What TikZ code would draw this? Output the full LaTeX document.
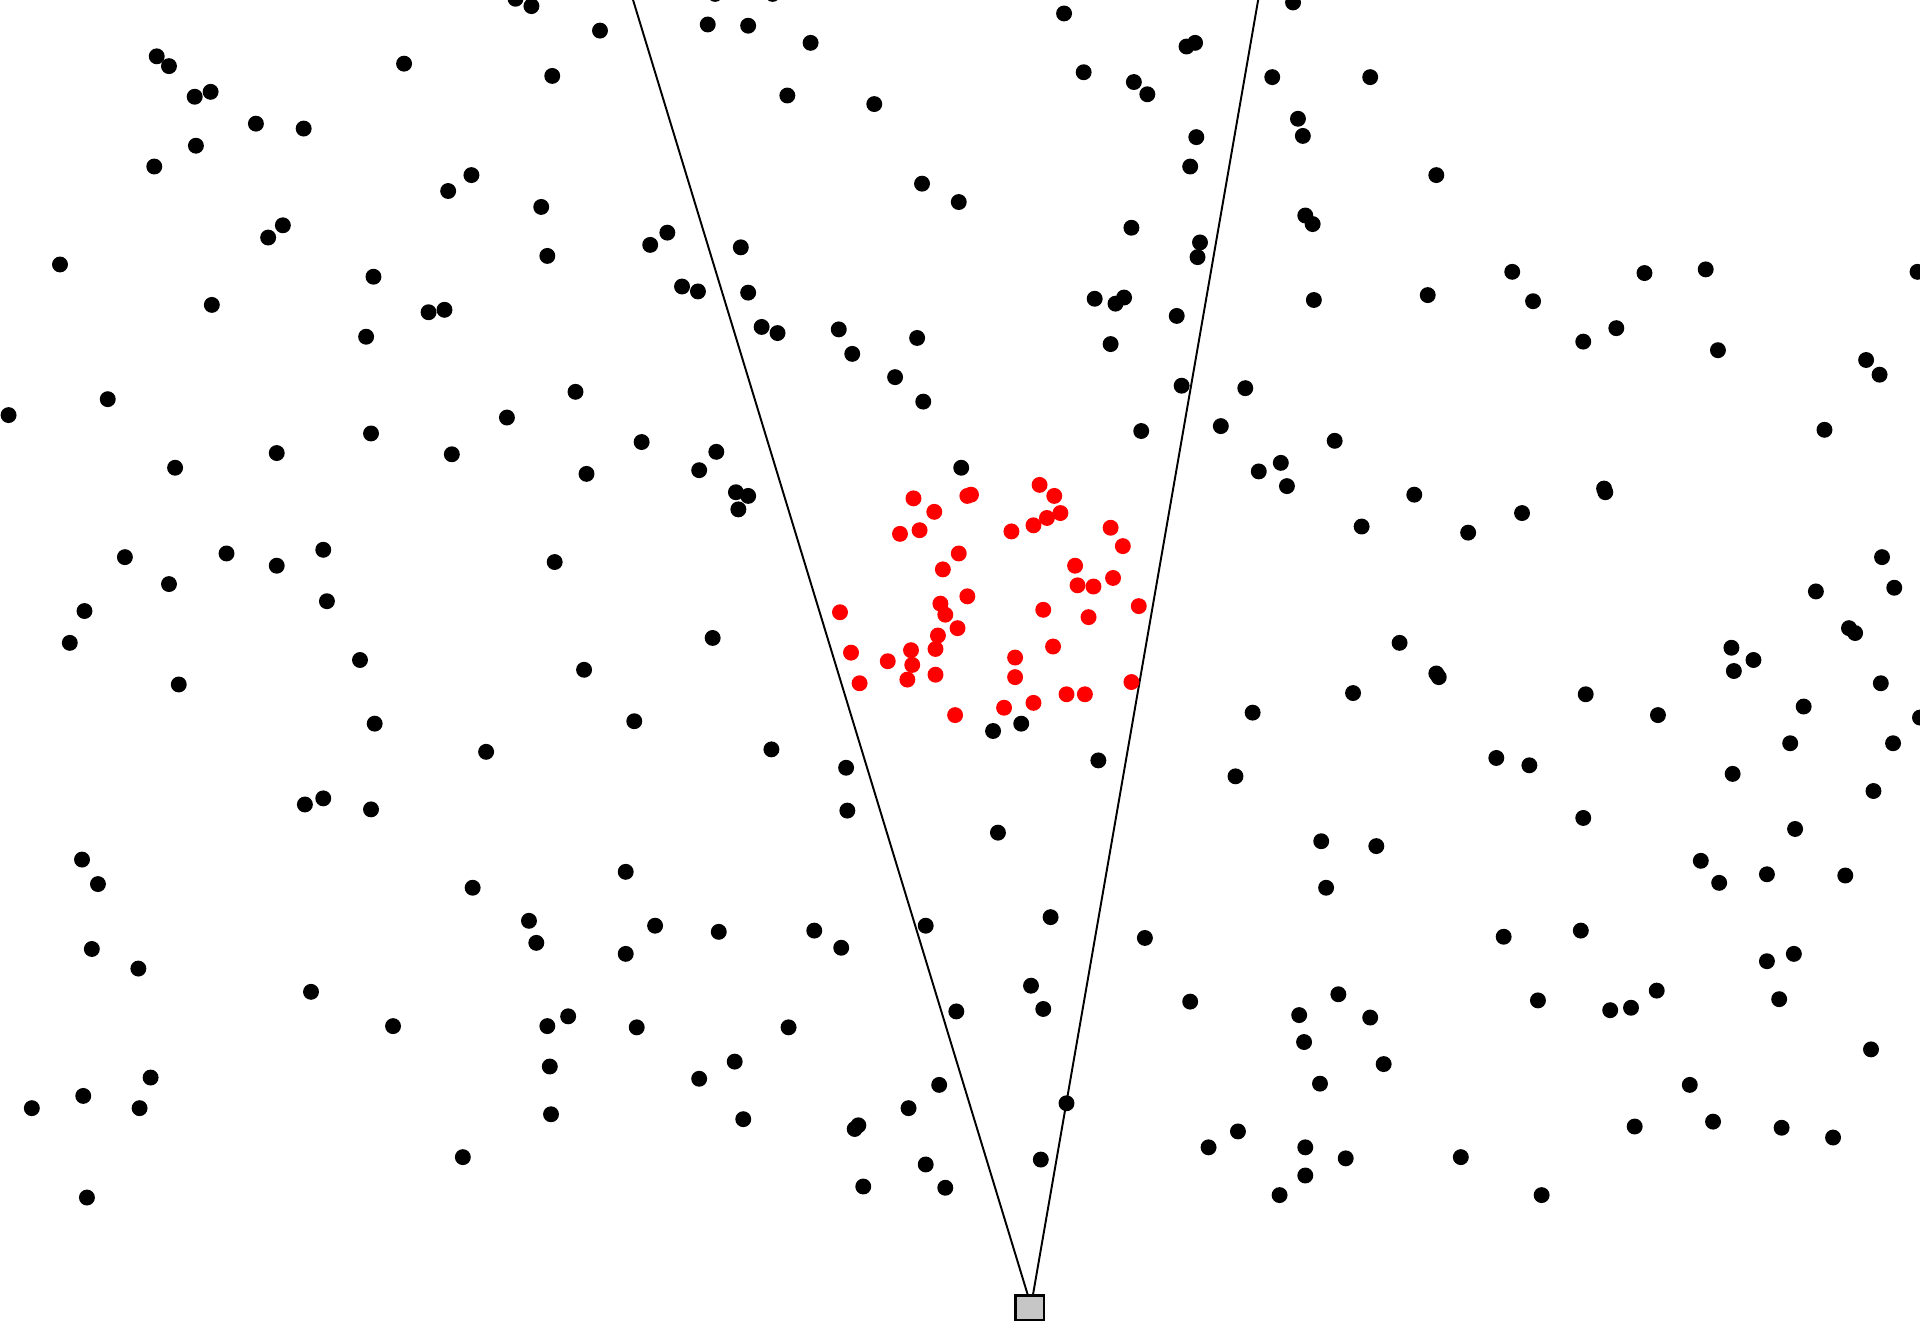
\documentclass[tikz,border=0pt]{standalone}
\definecolor{sensorgray}{HTML}{C6C6C6}
\begin{document}
\begin{tikzpicture}[x=0.01cm,y=-0.01cm,
  blackdot/.style={fill=black},
  reddot/.style={fill=red},
  fov/.style={draw=black,line width=0.45pt},
  sensorbox/.style={draw=black,fill=sensorgray,line width=0.6pt,minimum width=0.23cm,minimum height=0.20cm,inner sep=0pt}]
\useasboundingbox (0,0) rectangle (1568,1082);
\clip (0,0) rectangle (1568,1082);
% field of view
\coordinate (leftapex) at (839.5,1058);
\coordinate (rightapex) at (843.5,1058);
\coordinate (lefttop) at (517,0);
\coordinate (righttop) at (1027.5,0);
\draw[fov] (leftapex) -- (lefttop);
\draw[fov] (rightapex) -- (righttop);
% black dots
\foreach \px/\py in {
421/-1,434/5,563/-8,584/-5,631/-5,578/20,611/21,490/25,662/35,643/78,714/85,451/62,
128/46,138/54,330/52,159/79,172/75,209/101,248/105,126/136,160/119,
869/11,885/59,926/67,937/77,969/38,976/35,1056/2,1039/63,1119/63,1060/97,1064/111,977/112,972/136,
753/150,783/165,366/156,385/143,442/169,219/194,231/184,49/216,447/209,531/200,545/190,605/202,
305/226,173/249,350/255,363/253,557/234,570/238,611/239,299/275,1173/143,924/186,980/198,978/210,
1066/176,1072/183,894/244,911/248,918/243,961/258,1073/245,1166/241,1235/222,1252/246,1343/223,1393/220,
1566/222,1293/279,1320/268,1403/286,622/267,635/272,685/269,696/289,749/276,907/281,731/308,754/328,
7/339,88/326,470/320,414/341,303/354,226/370,369/371,143/382,524/361,479/387,585/369,571/384,
601/402,611/405,603/416,785/382,965/315,932/352,1017/317,997/348,1028/385,1046/378,1051/397,1090/360,
1155/404,1112/430,1199/435,1243/419,1310/399,1311/402,1490/351,1524/294,1535/306,
102/455,185/452,226/462,264/449,138/477,453/459,1537/455,
69/499,57/525,267/491,294/539,146/559,477/547,582/521,518/589,306/591,1483/483,1547/480,1510/513,1515/517,
1143/525,1173/550,1175/553,1105/566,1023/582,1295/567,1354/584,1414/529,1416/548,1432/539,1473/577,
1536/558,1568/586,1462/607,1546/607,811/597,834/591,397/614,630/612,897/621,
1222/619,1249/625,1009/634,1415/632,1530/646,691/627,692/662,249/657,264/652,303/661,67/702,80/722,
386/725,511/712,815/680,1079/687,1124/691,1083/725,1293/668,1466/677,1389/703,1404/721,1443/714,1507/715,
858/749,756/756,432/752,438/770,535/756,587/761,665/760,687/774,511/779,75/775,113/791,
935/766,1228/765,1291/760,1443/785,1465/779,1353/809,1315/825,1332/823,1453/816,1256/817,254/810,321/838,
447/838,464/830,520/839,644/839,781/826,842/805,852/824,972/818,1061/829,1093/812,1119/831,1065/851,
1130/869,1528/857,1380/886,1078/885,123/880,26/905,68/895,114/905,449/871,450/910,571/881,600/867,
607/914,701/919,698/922,742/905,767/886,871/901,378/945,71/978,705/969,756/951,772/970,850/947,
987/937,1011/924,1066/937,1066/960,1045/976,1099/946,1193/945,1259/976,1335/920,1399/916,1455/921,1497/929}
  \fill[blackdot] (\px,\py) circle[radius=0.065cm];
% red dots
\foreach \px/\py in {
746/407,763/418,735/436,751/433,790/405,793/404,849/396,861/405,866/419,855/423,844/429,826/434,
907/431,917/446,783/452,770/465,878/462,880/478,893/479,909/472,790/487,768/493,772/502,852/498,
889/504,930/495,686/500,782/513,766/519,764/530,744/531,695/533,725/540,745/543,741/555,764/551,
702/558,860/528,829/537,829/553,924/557,871/567,886/567,844/574,820/578,780/584}
  \fill[reddot] (\px,\py) circle[radius=0.065cm];
% sensor
\node[sensorbox] (sensor) at (841,1068) {};
\end{tikzpicture}
\end{document}
